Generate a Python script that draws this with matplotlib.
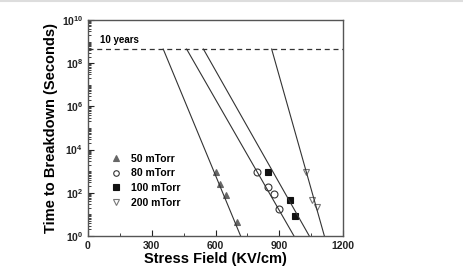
import matplotlib
matplotlib.use("Agg")
import matplotlib.pyplot as plt
from matplotlib.ticker import LogLocator, NullFormatter, MultipleLocator
import numpy as np

plt.rcParams['font.family'] = ['Liberation Sans', 'DejaVu Sans']
plt.rcParams['font.weight'] = 'bold'
plt.rcParams['mathtext.fontset'] = 'custom'
plt.rcParams['mathtext.rm'] = 'Liberation Sans:bold'
plt.rcParams['mathtext.bf'] = 'Liberation Sans:bold'
plt.rcParams['mathtext.default'] = 'bf'

# measured breakdown times (seconds) vs stress field (KV/cm)
labels = ['50 mTorr', '80 mTorr', '100 mTorr', '200 mTorr']
field_50 = [600, 621, 649, 700]
time_50 = [950, 245, 80, 4.6]
field_80 = [797, 849, 875, 900]
time_80 = [890, 190, 87, 18]
field_100 = [849, 951, 974]
time_100 = [950, 47, 8.7]
field_200 = [1024, 1053, 1076]
time_200 = [950, 47, 23]

# fitted lines: field where each fit meets the 10-year level and 1 s
fit_top = [354, 464, 543, 864]
fit_bottom = [718, 969, 1041, 1112]
ten_years = 4.5e8

fig = plt.figure(figsize=(4.63, 2.70), dpi=100)
ax = fig.add_axes([0.190, 0.126, 0.551, 0.800])

gray = '#333333'
series = [(field_50, time_50, '^', '#666666', '#666666'),
          (field_80, time_80, 'o', 'none', '#333333'),
          (field_100, time_100, 's', '#111111', '#111111'),
          (field_200, time_200, 'v', 'none', '#777777')]

for (fx, ty, m, fc, ec), lab in zip(series, labels):
    ax.plot(fx, ty, linestyle='none', marker=m, markersize=5,
            markerfacecolor=fc, markeredgecolor=ec, markeredgewidth=0.8,
            label=lab)

for x0, x1 in zip(fit_top, fit_bottom):
    ax.plot([x0, x1], [ten_years, 1], color=gray, lw=0.8)

ax.axhline(ten_years, color=gray, lw=0.9, ls=(0, (4, 3)))
ax.text(55, ten_years * 1.5, '10 years', fontsize=7, fontweight='bold',
        va='bottom', ha='left')

ax.set_yscale('log')
ax.set_xlim(0, 1200)
ax.set_ylim(1, 1e10)
ax.xaxis.set_major_locator(MultipleLocator(300))
ax.xaxis.set_minor_locator(MultipleLocator(150))
ax.yaxis.set_major_locator(LogLocator(base=100, numticks=10))
ax.yaxis.set_minor_locator(LogLocator(base=10, subs=np.arange(1, 10), numticks=20))
ax.yaxis.set_minor_formatter(NullFormatter())

ax.tick_params(which='both', direction='in', top=False, right=False,
               labelsize=7.5, colors='#222222')
ax.tick_params(which='major', length=4, width=0.8)
ax.tick_params(which='minor', length=2, width=0.6)
for lab in ax.get_xticklabels() + ax.get_yticklabels():
    lab.set_fontweight('bold')
for s in ax.spines.values():
    s.set_color('#555555')
    s.set_linewidth(1.0)

ax.set_xlabel('Stress Field (KV/cm)', fontsize=10.5, fontweight='bold', labelpad=1)
ax.set_ylabel('Time to Breakdown (Seconds)', fontsize=10.5, fontweight='bold', labelpad=3)

leg = ax.legend(loc='upper left', bbox_to_anchor=(0.07, 0.40), frameon=False,
                fontsize=7.5, handletextpad=0.8, labelspacing=0.45,
                handlelength=1.2, borderaxespad=0, markerscale=0.8)
for t in leg.get_texts():
    t.set_fontweight('bold')

fig.add_artist(plt.Line2D([0, 1], [0.998, 0.998], color='#dddddd', lw=1.5,
                          transform=fig.transFigure))

fig.savefig('out.png', dpi=100)
